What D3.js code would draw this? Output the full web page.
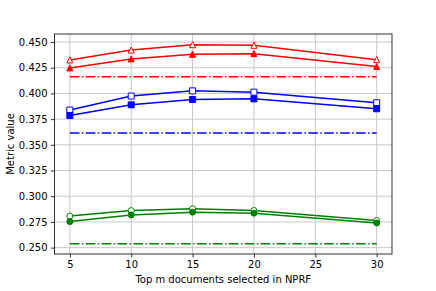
<!DOCTYPE html>
<html>
<head>
<meta charset="utf-8">
<script src="https://cdn.jsdelivr.net/npm/d3@7"></script>
<style>
  body { margin: 0; background: #fff; }
  text { font-family: "DejaVu Sans", sans-serif; }
</style>
</head>
<body>
<div class="chart"></div>
<script>
// data
var topM = [5, 10, 15, 20, 30];
var redOpen = [0.4326, 0.4422, 0.4474, 0.4468, 0.4328];
var redFilled = [0.4248, 0.4335, 0.4381, 0.4387, 0.4261];
var redBase = 0.4161;
var blueOpen = [0.3838, 0.3974, 0.4025, 0.4012, 0.3909];
var blueFilled = [0.3786, 0.3889, 0.3941, 0.3947, 0.3851];
var blueBase = 0.3615;
var greenOpen = [0.2807, 0.2860, 0.2878, 0.2861, 0.2764];
var greenFilled = [0.2753, 0.2818, 0.2845, 0.2835, 0.2740];
var greenBase = 0.2537;
var xTicks = [5, 10, 15, 20, 25, 30];
var yTicks = [0.25, 0.275, 0.3, 0.325, 0.35, 0.375, 0.4, 0.425, 0.45];

var series = [
  { vals: redOpen, color: "#ff0000", shape: "tri", open: true },
  { vals: redFilled, color: "#ff0000", shape: "tri", open: false },
  { vals: blueOpen, color: "#0000ff", shape: "sq", open: true },
  { vals: blueFilled, color: "#0000ff", shape: "sq", open: false },
  { vals: greenOpen, color: "#008000", shape: "circ", open: true },
  { vals: greenFilled, color: "#008000", shape: "circ", open: false }
];
var baselines = [
  { v: redBase, color: "#ff0000" },
  { v: blueBase, color: "#0000ff" },
  { v: greenBase, color: "#008000" }
];

var width = 436, height = 291;
var margin = { top: 34, right: 44, bottom: 37, left: 54.5 };
var w = width - margin.left - margin.right,
  h = height - margin.top - margin.bottom;

var svg = d3.select(".chart").append("svg")
  .attr("width", width)
  .attr("height", height);

var x = d3.scaleLinear().domain([3.75, 31.25]).range([0, w]);
var y = d3.scaleLinear().domain([0.2438, 0.4578]).range([h, 0]);

var g = svg.append("g")
  .attr("transform", "translate(" + margin.left + "," + margin.top + ")");

// grid
g.selectAll(".gx").data(xTicks).enter().append("line")
  .attr("x1", function (d) { return x(d); })
  .attr("x2", function (d) { return x(d); })
  .attr("y1", 0).attr("y2", h)
  .attr("stroke", "#c8c8c8").attr("stroke-width", 1);
g.selectAll(".gy").data(yTicks).enter().append("line")
  .attr("y1", function (d) { return y(d); })
  .attr("y2", function (d) { return y(d); })
  .attr("x1", 0).attr("x2", w)
  .attr("stroke", "#c8c8c8").attr("stroke-width", 1);

var line = d3.line()
  .x(function (d, i) { return x(topM[i]); })
  .y(function (d) { return y(d); });

// baselines (dash-dot)
g.selectAll(".base").data(baselines).enter().append("line")
  .attr("x1", x(5)).attr("x2", x(30))
  .attr("y1", function (d) { return y(d.v); })
  .attr("y2", function (d) { return y(d.v); })
  .attr("stroke", function (d) { return d.color; })
  .attr("stroke-width", 1.5)
  .attr("stroke-dasharray", "9.6,2.4,1.5,2.4");

// marker shapes, ~6px like matplotlib markersize 6
var shapes = {
  tri: "M0,-3L3,3L-3,3Z",
  sq: "M-3,-3L3,-3L3,3L-3,3Z",
  circ: d3.symbol().type(d3.symbolCircle).size(Math.PI * 9)()
};

series.forEach(function (s) {
  g.append("path")
    .attr("d", line(s.vals))
    .attr("fill", "none")
    .attr("stroke", s.color)
    .attr("stroke-width", 1.5);
  g.selectAll(null).data(s.vals).enter().append("path")
    .attr("transform", function (d, i) {
      return "translate(" + x(topM[i]) + "," + y(d) + ")";
    })
    .attr("d", shapes[s.shape])
    .attr("fill", s.open ? "#ffffff" : s.color)
    .attr("stroke", s.color)
    .attr("stroke-width", 1);
});

// axes
var xAxis = g.append("g")
  .attr("transform", "translate(0," + h + ")")
  .call(d3.axisBottom(x).tickValues(xTicks).tickSize(3.5).tickPadding(3.5)
    .tickFormat(d3.format("d")));
var yAxis = g.append("g")
  .call(d3.axisLeft(y).tickValues(yTicks).tickSize(3.5).tickPadding(3.5)
    .tickFormat(d3.format(".3f")));
[xAxis, yAxis].forEach(function (a) {
  a.select(".domain").remove();
  a.selectAll("text").attr("font-size", "10px").attr("fill", "#000")
    .style("font-family", "DejaVu Sans, sans-serif");
  a.selectAll("line").attr("stroke", "#000").attr("stroke-width", 0.8);
});

// frame
g.append("rect")
  .attr("x", 0).attr("y", 0).attr("width", w).attr("height", h)
  .attr("fill", "none").attr("stroke", "#000").attr("stroke-width", 0.8);

svg.append("text")
  .attr("x", margin.left + w / 2)
  .attr("y", 283)
  .attr("text-anchor", "middle")
  .attr("font-size", "10px")
  .text("Top m documents selected in NPRF");

svg.append("text")
  .attr("transform", "translate(13.5," + (margin.top + h / 2) + ") rotate(-90)")
  .attr("text-anchor", "middle")
  .attr("font-size", "10px")
  .text("Metric value");
</script>
</body>
</html>
